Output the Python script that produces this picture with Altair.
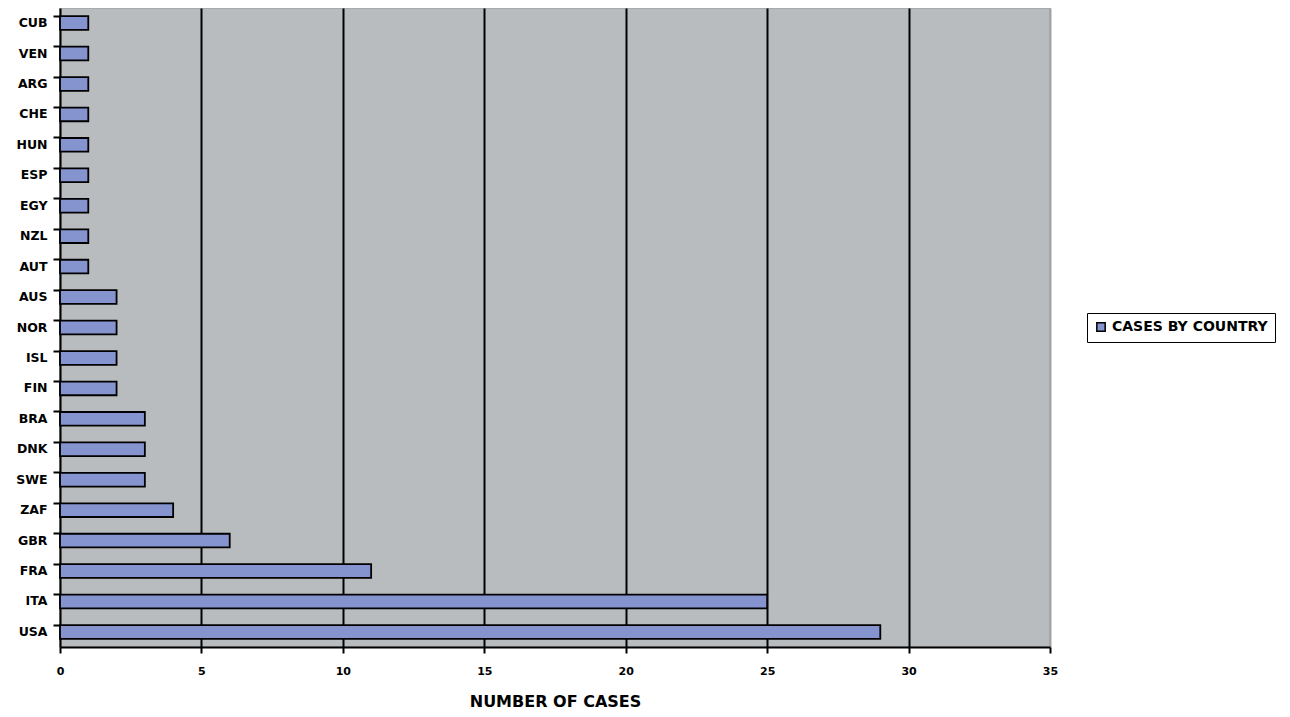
import altair as alt
import pandas as pd

countries = ["CUB", "VEN", "ARG", "CHE", "HUN", "ESP", "EGY", "NZL", "AUT", "AUS",
             "NOR", "ISL", "FIN", "BRA", "DNK", "SWE", "ZAF", "GBR", "FRA", "ITA", "USA"]
cases = [1, 1, 1, 1, 1, 1, 1, 1, 1, 2, 2, 2, 2, 3, 3, 3, 4, 6, 11, 25, 29]
series_name = "CASES BY COUNTRY"
x_ticks = [0, 5, 10, 15, 20, 25, 30, 35]

df = pd.DataFrame({"country": countries, "cases": cases, "series": series_name})

FONT = "DejaVu Sans"

bars = alt.Chart(df).mark_bar(stroke="black", strokeWidth=1.8).encode(
    y=alt.Y("country:N", sort=countries,
            scale=alt.Scale(paddingInner=0.55, paddingOuter=0.27),
            axis=alt.Axis(title=None, bandPosition=0, domainColor="black", domainWidth=2,
                          tickColor="black", tickWidth=2, tickSize=7, labelPadding=6,
                          labelFont=FONT, labelFontSize=12.5, labelFontWeight="bold",
                          labelColor="black", grid=False)),
    x=alt.X("cases:Q",
            scale=alt.Scale(domain=[0, 35], nice=False),
            axis=alt.Axis(title="NUMBER OF CASES", values=x_ticks, format="d",
                          domainColor="black", domainWidth=2, tickColor="black",
                          tickWidth=2, tickSize=6, labelPadding=12, labelFlush=False,
                          labelFont=FONT, labelFontSize=11, labelFontWeight="bold",
                          labelColor="black", titleFont=FONT, titleFontSize=16,
                          titleFontWeight="bold", titleColor="black", titlePadding=17,
                          grid=True,
                          gridColor={"condition": {"test": "datum.value === 35 || datum.value === 0",
                                                   "value": "#a0a4a6"}, "value": "black"},
                          gridWidth=2, gridOpacity=1)),
    color=alt.Color("series:N", scale=alt.Scale(range=["#8593cf"]),
                    legend=alt.Legend(title=None, orient="none", legendX=1027, legendY=305,
                                      symbolType="square", symbolSize=70,
                                      symbolStrokeColor="black", symbolStrokeWidth=1.5,
                                      labelFont=FONT, labelFontSize=14,
                                      labelFontWeight="bold", labelColor="black",
                                      strokeColor="black", fillColor="white",
                                      padding=7, cornerRadius=0)),
)

chart = bars.properties(
    width=990, height=639,
    background="white",
    autosize=alt.AutoSizeParams(type="none"),
    padding={"left": 52, "top": 0, "right": 230, "bottom": 68},
).configure_view(
    fill="#b8bcbf", stroke="#a0a4a6", strokeWidth=1.5
)

chart.save("out.html", embed_options={"renderer": "svg", "actions": False})
